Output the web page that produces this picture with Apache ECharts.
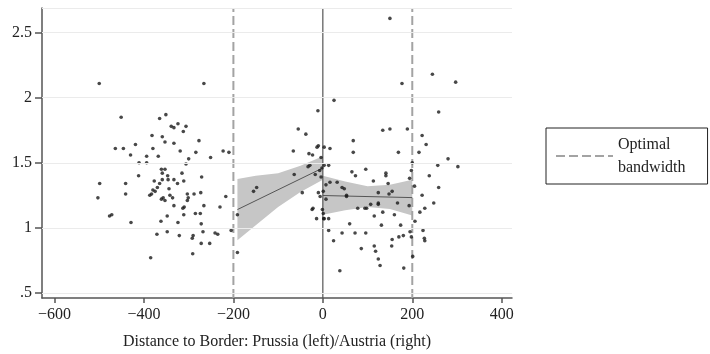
<!DOCTYPE html>
<html>
<head>
<meta charset="utf-8">
<script src="https://cdn.jsdelivr.net/npm/echarts@6/dist/echarts.min.js"></script>
<style>
  html, body { margin: 0; padding: 0; background: #fff; }
  #chart { width: 710px; height: 354px; }
</style>
</head>
<body>
<div id="chart"></div>
<script>
const xTicks = [-600, -400, -200, 0, 200, 400]
const yTicks = [0.5, 1, 1.5, 2, 2.5]
const xRange = [-628, 423]
const yRange = [0.46, 2.69]
const bandwidth = [-200, 200]

// districts on the Prussian side (distance < 0)
const pointsLeft = [
  [-500, 2.11], [-451, 1.85], [-365, 1.84], [-351, 1.87], [-339, 1.78], [-333, 1.77], [-324, 1.80],
  [-306, 1.78], [-312, 1.74], [-382, 1.71], [-359, 1.70], [-353, 1.66], [-333, 1.65], [-419, 1.64],
  [-380, 1.61], [-464, 1.61], [-446, 1.61], [-430, 1.56], [-394, 1.55], [-368, 1.55], [-319, 1.59],
  [-300, 1.53], [-306, 1.49], [-411, 1.50], [-394, 1.50], [-361, 1.45], [-353, 1.45], [-359, 1.42],
  [-347, 1.40], [-315, 1.42], [-412, 1.40], [-377, 1.36], [-359, 1.37], [-346, 1.37], [-333, 1.37],
  [-325, 1.34], [-311, 1.36], [-365, 1.34], [-370, 1.31], [-380, 1.29], [-375, 1.28], [-387, 1.25],
  [-383, 1.26], [-344, 1.30], [-342, 1.25], [-336, 1.23], [-361, 1.22], [-357, 1.23], [-353, 1.21],
  [-303, 1.26], [-301, 1.23], [-303, 1.21], [-288, 1.26], [-333, 1.17], [-310, 1.16], [-313, 1.15],
  [-348, 1.09], [-311, 1.10], [-285, 1.11], [-362, 1.05], [-324, 1.04], [-371, 0.95], [-348, 0.97],
  [-321, 0.94], [-290, 0.94], [-292, 0.92], [-385, 0.77], [-291, 0.80], [-499, 1.34], [-441, 1.34],
  [-441, 1.26], [-503, 1.23], [-477, 1.09], [-472, 1.10], [-429, 1.04],
  [-266, 2.11], [-277, 1.67], [-284, 1.58], [-251, 1.54], [-223, 1.59], [-210, 1.58], [-271, 1.39],
  [-273, 1.27], [-217, 1.24], [-266, 1.17], [-230, 1.16], [-274, 1.11], [-272, 1.03], [-268, 0.97],
  [-241, 0.96], [-235, 0.95], [-272, 0.88], [-253, 0.88], [-205, 0.98],
  [-191, 1.10], [-191, 0.81], [-155, 1.28], [-148, 1.31], [-66, 1.59], [-55, 1.76], [-64, 1.41],
  [-38, 1.72], [-46, 1.27], [-31, 1.57], [-23, 1.56], [-13, 1.62], [-10, 1.63], [-4, 1.54],
  [-29, 1.48], [-33, 1.47], [-11, 1.90], [-2, 1.46], [-7, 1.44], [-17, 1.41], [-4, 1.39],
  [-10, 1.27], [-6, 1.24], [-22, 1.15], [-24, 1.14], [-14, 1.07], [-1, 1.14]
]

// districts on the Austrian side (distance > 0)
const pointsRight = [
  [1, 1.11], [2, 1.07], [3, 1.62], [16, 1.61], [25, 1.98], [68, 1.67], [68, 1.58], [3, 1.48],
  [13, 1.48], [7, 1.33], [16, 1.35], [32, 1.35], [43, 1.31], [48, 1.30], [53, 1.25], [53, 1.24],
  [1, 1.28], [7, 1.22], [3, 1.07], [13, 1.07], [60, 1.03], [65, 1.43], [73, 1.40], [96, 1.45],
  [113, 1.36], [124, 1.27], [124, 1.19], [124, 1.18], [107, 1.18], [98, 1.15], [94, 1.15], [78, 1.15],
  [115, 1.09], [13, 0.98], [43, 0.96], [72, 0.96], [96, 0.96], [24, 0.90], [86, 0.84], [115, 0.86],
  [118, 0.82], [124, 0.76], [128, 0.71], [38, 0.67], [150, 2.61], [177, 2.11], [245, 2.18], [297, 2.12],
  [259, 1.89], [134, 1.75], [150, 1.76], [189, 1.76], [222, 1.71], [231, 1.64], [169, 1.58], [215, 1.58],
  [280, 1.53], [257, 1.48], [302, 1.47], [200, 1.50], [198, 1.44], [141, 1.42], [141, 1.40], [194, 1.38],
  [238, 1.40], [146, 1.34], [259, 1.31], [205, 1.32], [148, 1.26], [155, 1.28], [222, 1.25], [167, 1.19],
  [248, 1.19], [228, 1.15], [217, 1.12], [134, 1.12], [193, 1.17], [160, 1.10], [206, 1.05], [174, 1.02],
  [131, 1.02], [224, 0.98], [155, 0.91], [170, 0.93], [180, 0.94], [195, 0.97], [198, 0.93], [227, 0.92],
  [228, 0.90], [154, 0.86], [181, 0.69], [201, 0.78]
]

// local linear fits and confidence bands
const fitLeftX = [-191, 0]
const fitLeftY = [1.14, 1.46]
const fitRightX = [0, 200]
const fitRightY = [1.248, 1.232]

const bandLeftX = [-191, -150, -100, -50, 0]
const bandLeftUpper = [1.375, 1.40, 1.42, 1.476, 1.55]
const bandLeftLower = [0.905, 1.02, 1.16, 1.276, 1.37]
const bandRightX = [0, 50, 100, 150, 200]
const bandRightUpper = [1.40, 1.355, 1.32, 1.33, 1.37]
const bandRightLower = [1.10, 1.135, 1.16, 1.145, 1.095]

const bands = [
  { x: bandLeftX, upper: bandLeftUpper, lower: bandLeftLower },
  { x: bandRightX, upper: bandRightUpper, lower: bandRightLower },
]

const font = 'Liberation Serif, DejaVu Serif, serif'
const pairs = (xs, ys) => xs.map((x, i) => [x, ys[i]])

const chart = echarts.init(document.getElementById('chart'))

chart.setOption({
  animation: false,
  textStyle: { fontFamily: font },
  grid: { left: 42, right: 198, top: 8, bottom: 56, outerBoundsMode: 'none' },
  legend: {
    data: ['Optimal bandwidth'],
    left: 546,
    top: 128,
    orient: 'vertical',
    itemWidth: 57,
    itemHeight: 12,
    padding: [5, 22, 5, 9],
    borderColor: '#222',
    borderWidth: 1,
    borderRadius: 0,
    itemStyle: { opacity: 0 },
    formatter: () => 'Optimal\nbandwidth',
    textStyle: { fontFamily: font, fontSize: 16, lineHeight: 23, color: '#222' },
  },
  xAxis: {
    type: 'value',
    min: xRange[0],
    max: xRange[1],
    name: 'Distance to Border: Prussia (left)/Austria (right)',
    nameLocation: 'middle',
    nameGap: 36,
    nameTextStyle: { fontFamily: font, fontSize: 16, color: '#222' },
    axisLine: { show: true, onZero: false, lineStyle: { color: '#555', width: 1.5 } },
    axisTick: { show: true, customValues: xTicks, length: 5, lineStyle: { color: '#555', width: 1.5 } },
    axisLabel: {
      customValues: xTicks,
      margin: 9,
      fontFamily: font,
      fontSize: 16,
      color: '#222',
      formatter: (v) => (v < 0 ? '\u2212' + Math.abs(v) : String(v)),
    },
    splitLine: { show: false },
  },
  yAxis: {
    type: 'value',
    min: yRange[0],
    max: yRange[1],
    axisLine: { show: true, onZero: false, lineStyle: { color: '#555', width: 1.5 } },
    axisTick: { show: true, customValues: yTicks, length: 7, lineStyle: { color: '#555', width: 1.5 } },
    axisLabel: {
      customValues: yTicks,
      margin: 10,
      fontFamily: font,
      fontSize: 16,
      color: '#222',
      formatter: (v) => String(v).replace(/^0\./, '.'),
    },
    splitLine: { show: false },
  },
  series: [
    {
      // grid lines and the faint top frame
      type: 'line',
      name: 'grid',
      data: [],
      silent: true,
      z: 0,
      markLine: {
        silent: true,
        symbol: 'none',
        label: { show: false },
        lineStyle: { color: '#ebebeb', width: 1, type: 'solid' },
        data: yTicks.concat([yRange[1]]).map((v) => ({ yAxis: v })),
      },
    },
    {
      type: 'custom',
      name: 'band',
      silent: true,
      z: 1,
      data: [[0, 1], [0, 1]],
      renderItem: (params, api) => {
        const b = bands[params.dataIndex]
        const pts = b.x.map((x, i) => api.coord([x, b.upper[i]]))
        for (let i = b.x.length - 1; i >= 0; i--) pts.push(api.coord([b.x[i], b.lower[i]]))
        return { type: 'polygon', shape: { points: pts }, style: { fill: '#c6c6c6' } }
      },
    },
    {
      type: 'line',
      name: 'Optimal bandwidth',
      data: [[bandwidth[0], yRange[0]], [bandwidth[0], yRange[1]]],
      symbol: 'none',
      silent: true,
      z: 2,
      lineStyle: { color: '#a3a3a3', width: 2, type: [9, 4] },
    },
    {
      type: 'line',
      name: 'Optimal bandwidth',
      data: [[bandwidth[1], yRange[0]], [bandwidth[1], yRange[1]]],
      symbol: 'none',
      silent: true,
      z: 2,
      lineStyle: { color: '#a3a3a3', width: 2, type: [9, 4] },
    },
    {
      type: 'line',
      name: 'border',
      data: [[0, yRange[0]], [0, yRange[1]]],
      symbol: 'none',
      silent: true,
      z: 2,
      lineStyle: { color: '#555', width: 1.2 },
    },
    {
      type: 'line',
      name: 'fit left',
      data: pairs(fitLeftX, fitLeftY),
      symbol: 'none',
      z: 3,
      lineStyle: { color: '#555', width: 1 },
    },
    {
      type: 'line',
      name: 'fit right',
      data: pairs(fitRightX, fitRightY),
      symbol: 'none',
      z: 3,
      lineStyle: { color: '#555', width: 1 },
    },
    {
      type: 'scatter',
      name: 'Prussia',
      data: pointsLeft,
      symbolSize: 3.6,
      z: 4,
      itemStyle: { color: '#1a1a1a' },
    },
    {
      type: 'scatter',
      name: 'Austria',
      data: pointsRight,
      symbolSize: 3.6,
      z: 4,
      itemStyle: { color: '#1a1a1a' },
    },
  ],
})
</script>
</body>
</html>
